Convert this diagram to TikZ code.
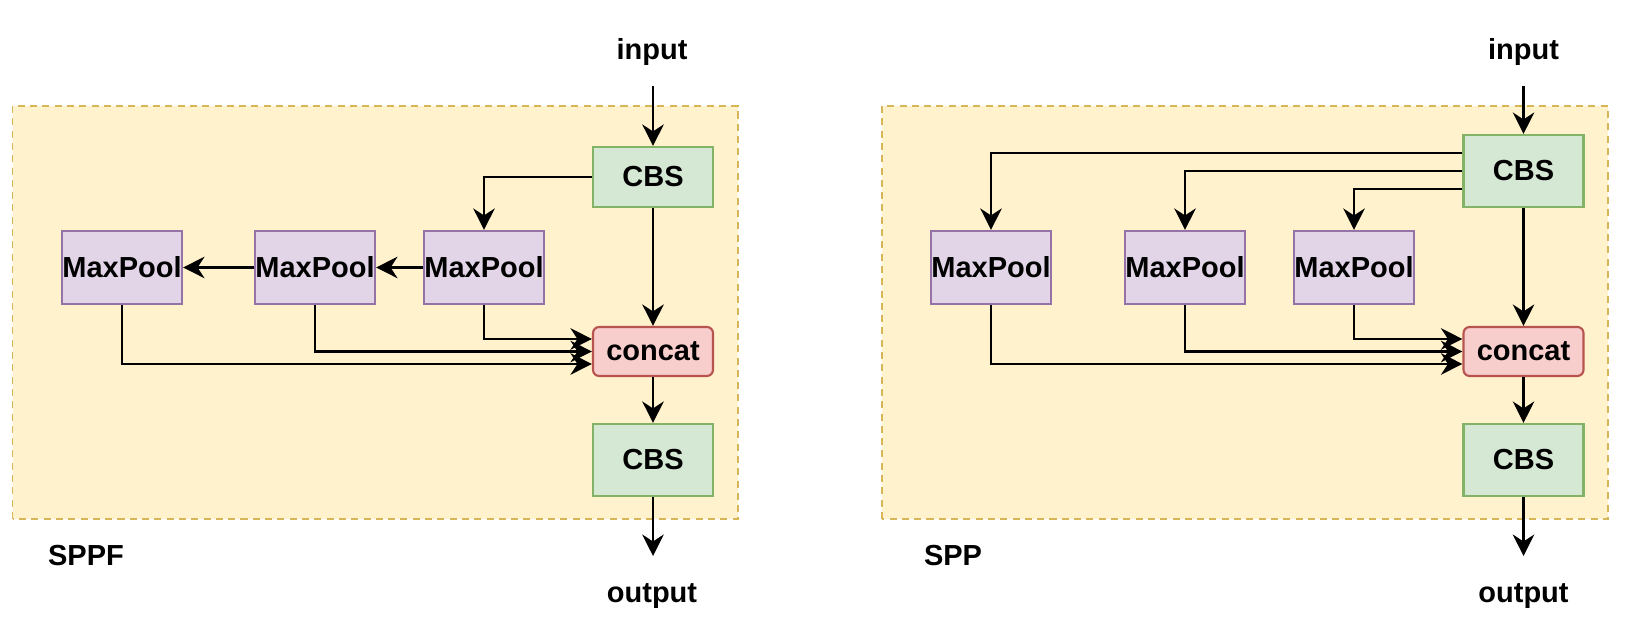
\documentclass[tikz,border=0pt]{standalone}
\usepackage{fontspec}
\setmainfont{Liberation Sans}
\usetikzlibrary{arrows.meta,positioning}
\definecolor{cbsfill}{HTML}{D5E8D4}
\definecolor{cbsline}{HTML}{82B366}
\definecolor{poolfill}{HTML}{E1D5E7}
\definecolor{poolline}{HTML}{9673A6}
\definecolor{catfill}{HTML}{F8CECC}
\definecolor{catline}{HTML}{B85450}
\definecolor{panelfill}{HTML}{FFF2CC}
\definecolor{panelline}{HTML}{D6B656}

\begin{document}
\begin{tikzpicture}[
    box/.style={draw, line width=1.2pt, minimum width=2.4cm, inner sep=0pt, font=\fontsize{16.5}{19}\selectfont\bfseries, text=black},
    cbs/.style={box, fill=cbsfill, draw=cbsline},
    pool/.style={box, fill=poolfill, draw=poolline, minimum height=1.46cm},
    cat/.style={box, fill=catfill, draw=catline, rounded corners=3.5pt, minimum height=0.98cm},
    panel/.style={draw=panelline, fill=panelfill, line width=1.1pt, dash pattern=on 4pt off 3pt},
    lbl/.style={font=\fontsize{16.5}{19}\selectfont\bfseries, text=black},
    arr/.style={-{Stealth[length=4.3mm, width=4.3mm, inset=1.4mm]}, line width=1.2pt, black},
]
\useasboundingbox (0,0) rectangle (32.7,12.56);

% panels
\draw[panel] (0.25,2.18) rectangle (14.76,10.44);
\draw[panel] (17.64,2.18) rectangle (32.16,10.44);

% SPPF
\node[lbl] (in1) at (13.04,11.52) {input};
\coordinate (in1end) at (13.06,10.84);
\node[cbs, minimum height=1.2cm] (cbs1) at (13.06,9.02) {CBS};
\node[pool] (mp1) at (9.68,7.21) {MaxPool};
\node[pool] (mp2) at (6.3,7.21) {MaxPool};
\node[pool] (mp3) at (2.44,7.21) {MaxPool};
\node[cat] (cat1) at (13.06,5.53) {concat};
\node[cbs, minimum height=1.44cm] (cbs2) at (13.06,3.36) {CBS};
\coordinate (out1end) at (13.06,1.44);
\node[lbl] (out1) at (13.04,0.64) {output};
\node[lbl] (sppf) at (1.72,1.44) {SPPF};

\draw[arr] (in1end) -- (cbs1);
\draw[arr] (cbs1.west) -| (mp1.north);
\draw[arr] (mp1) -- (mp2);
\draw[arr] (mp2) -- (mp3);
\draw[arr] (cbs1) -- (cat1);
\draw[arr] (mp1.south) |- ([yshift=0.25cm]cat1.west);
\draw[arr] (mp2.south) |- (cat1.west);
\draw[arr] (mp3.south) |- ([yshift=-0.25cm]cat1.west);
\draw[arr] (cat1) -- (cbs2);
\draw[arr] (cbs2) -- (out1end);

% SPP
\node[lbl] (in2) at (30.47,11.52) {input};
\coordinate (in2end) at (30.47,10.84);
\node[cbs, minimum height=1.44cm] (cbs3) at (30.47,9.14) {CBS};
\node[pool] (mp4) at (19.82,7.21) {MaxPool};
\node[pool] (mp5) at (23.7,7.21) {MaxPool};
\node[pool] (mp6) at (27.08,7.21) {MaxPool};
\node[cat] (cat2) at (30.47,5.53) {concat};
\node[cbs, minimum height=1.44cm] (cbs4) at (30.47,3.36) {CBS};
\coordinate (out2end) at (30.47,1.44);
\node[lbl] (out2) at (30.47,0.64) {output};
\node[lbl] (spp) at (19.06,1.44) {SPP};

\draw[arr] (in2end) -- (cbs3);
\draw[arr] ([yshift=0.36cm]cbs3.west) -| (mp4.north);
\draw[arr] (cbs3.west) -| (mp5.north);
\draw[arr] ([yshift=-0.36cm]cbs3.west) -| (mp6.north);
\draw[arr] (cbs3) -- (cat2);
\draw[arr] (mp6.south) |- ([yshift=0.25cm]cat2.west);
\draw[arr] (mp5.south) |- (cat2.west);
\draw[arr] (mp4.south) |- ([yshift=-0.25cm]cat2.west);
\draw[arr] (cat2) -- (cbs4);
\draw[arr] (cbs4) -- (out2end);
\end{tikzpicture}
\end{document}
